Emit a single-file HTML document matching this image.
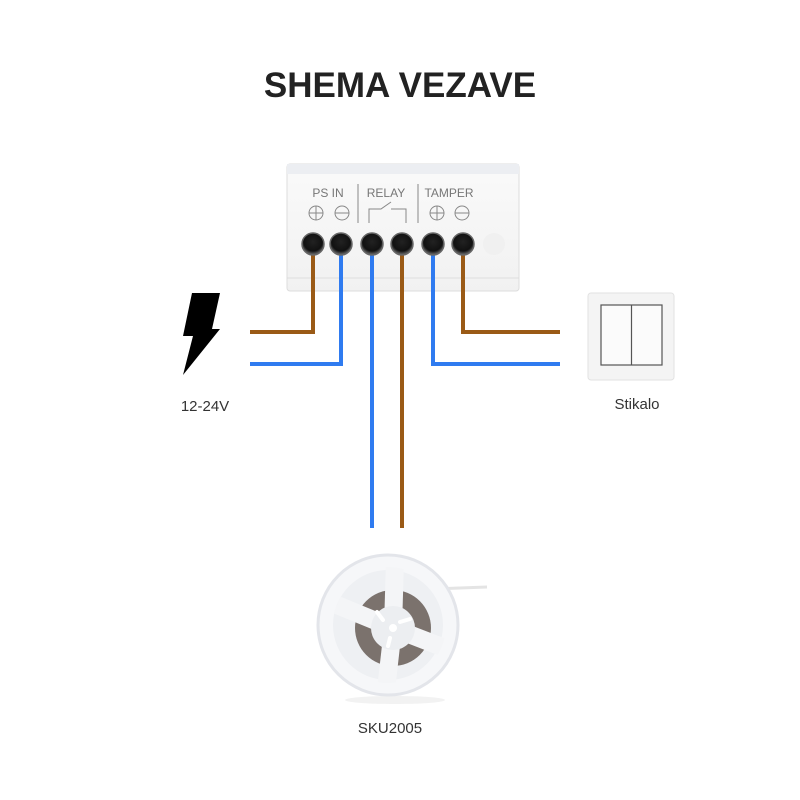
<!DOCTYPE html>
<html><head><meta charset="utf-8"><style>
body{margin:0;background:#fff;width:800px;height:800px;overflow:hidden;font-family:"Liberation Sans",sans-serif}
</style></head><body>
<svg width="800" height="800" xmlns="http://www.w3.org/2000/svg" style="position:absolute;left:0;top:0">
<defs>
<linearGradient id="bx" x1="0" y1="0" x2="0" y2="1"><stop offset="0" stop-color="#fafafa"/><stop offset="1" stop-color="#f1f1f1"/></linearGradient>
<radialGradient id="tm" cx="0.5" cy="0.4" r="0.6"><stop offset="0" stop-color="#222"/><stop offset="0.7" stop-color="#111"/><stop offset="1" stop-color="#777"/></radialGradient>
<clipPath id="rc"><circle cx="388" cy="625" r="58"/></clipPath>
</defs>
<text x="400" y="97" text-anchor="middle" font-size="35" font-weight="bold" fill="#222" font-family="Liberation Sans">SHEMA VEZAVE</text>
<rect x="287" y="164" width="232" height="127" rx="3" fill="url(#bx)" stroke="#ddd"/>
<rect x="287" y="164" width="232" height="10" fill="#eceef2"/>
<line x1="287" y1="278" x2="519" y2="278" stroke="#ddd"/>
<g fill="#777" font-size="12" font-family="Liberation Sans" text-anchor="middle">
<text x="328" y="197">PS IN</text><text x="386" y="197">RELAY</text><text x="449" y="197">TAMPER</text>
</g>
<g stroke="#888" stroke-width="1" fill="none">
<line x1="358" y1="184" x2="358" y2="223"/><line x1="418" y1="184" x2="418" y2="223"/>
<circle cx="316" cy="213" r="7"/><line x1="309" y1="213" x2="323" y2="213"/><line x1="316" y1="206" x2="316" y2="220"/>
<circle cx="342" cy="213" r="7"/><line x1="335" y1="213" x2="349" y2="213"/>
<circle cx="437" cy="213" r="7"/><line x1="430" y1="213" x2="444" y2="213"/><line x1="437" y1="206" x2="437" y2="220"/>
<circle cx="462" cy="213" r="7"/><line x1="455" y1="213" x2="469" y2="213"/>
<polyline points="369,223 369,209 381,209 391,202"/><polyline points="391,209 406,209 406,223"/>
</g>
<g fill="none" stroke-width="4">
<polyline points="313,250 313,332 250,332" stroke="#9a5a16"/>
<polyline points="341,250 341,364 250,364" stroke="#2f7bf0"/>
<polyline points="372,250 372,528" stroke="#2f7bf0"/>
<polyline points="402,250 402,528" stroke="#9a5a16"/>
<polyline points="433,250 433,364 560,364" stroke="#2f7bf0"/>
<polyline points="463,250 463,332 560,332" stroke="#9a5a16"/>
</g>
<g fill="url(#tm)" stroke="#666" stroke-width="1.5">
<circle cx="313" cy="244" r="11"/><circle cx="341" cy="244" r="11"/><circle cx="372" cy="244" r="11"/>
<circle cx="402" cy="244" r="11"/><circle cx="433" cy="244" r="11"/><circle cx="463" cy="244" r="11"/>
</g>
<circle cx="494" cy="244" r="11" fill="#f0f0f0"/>
<polygon points="192,293 220,293 212,329 220,329 183,375 193,336 183,336" fill="#000"/>
<text x="205" y="411" text-anchor="middle" font-size="15" fill="#333" font-family="Liberation Sans">12-24V</text>
<rect x="588" y="293" width="86" height="87" rx="3" fill="#f4f4f4" stroke="#e2e2e2"/>
<rect x="601" y="305" width="61" height="60" fill="#fbfbfb" stroke="#555" stroke-width="1.2"/>
<line x1="631.5" y1="305" x2="631.5" y2="365" stroke="#555" stroke-width="1.2"/>
<text x="637" y="409" text-anchor="middle" font-size="15" fill="#333" font-family="Liberation Sans">Stikalo</text>
<!-- reel -->
<line x1="405" y1="590" x2="487" y2="587" stroke="#e4e4e4" stroke-width="3"/>
<ellipse cx="395" cy="700" rx="50" ry="4" fill="#f2f2f2"/>
<circle cx="388" cy="625" r="70" fill="#f6f7f9" stroke="#e3e5ea" stroke-width="3"/>
<circle cx="388" cy="625" r="55" fill="#eef0f3"/>
<circle cx="393" cy="628" r="38" fill="#7b726d"/>
<g clip-path="url(#rc)" stroke="#f4f5f7" stroke-width="18">
<line x1="393" y1="628" x2="395" y2="560"/>
<line x1="393" y1="628" x2="455" y2="652"/>
<line x1="393" y1="628" x2="337" y2="605"/>
<line x1="393" y1="628" x2="386" y2="690"/>
</g>
<circle cx="393" cy="628" r="22" fill="#eceef1"/>
<g stroke="#fff" stroke-width="4" stroke-linecap="round">
<line x1="383" y1="620" x2="377" y2="612"/><line x1="400" y1="622" x2="410" y2="619"/><line x1="390" y1="638" x2="388" y2="646"/>
</g>
<circle cx="393" cy="628" r="4" fill="#fff"/>
<text x="390" y="733" text-anchor="middle" font-size="15" fill="#333" font-family="Liberation Sans">SKU2005</text>
</svg>
</body></html>
